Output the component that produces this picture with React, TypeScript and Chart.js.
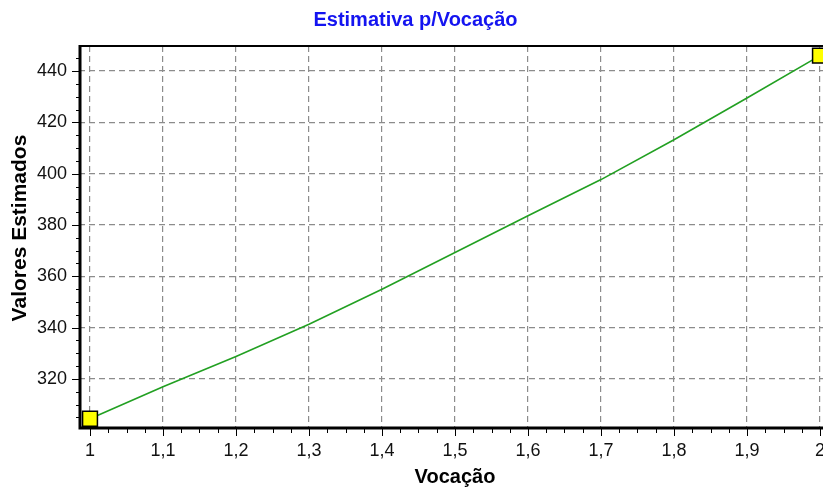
import React, { useEffect, useRef } from "react";
import { Chart, registerables } from "chart.js";

Chart.register(...registerables);

const vocacao = [1, 1.1, 1.2, 1.3, 1.4, 1.5, 1.6, 1.7, 1.8, 1.9, 2];
const valores = [304.5, 317, 328.8, 341.3, 355, 369.3, 383.6, 397.7, 413.2, 429.5, 446];
const xTicks = [1, 1.1, 1.2, 1.3, 1.4, 1.5, 1.6, 1.7, 1.8, 1.9, 2];
const yTicks = [320, 340, 360, 380, 400, 420, 440];
const titleText = "Estimativa p/Vocação";
const xTitle = "Vocação";
const yTitle = "Valores Estimados";

const FONT = "'Liberation Sans', Arial, sans-serif";

const framePlugin = {
  id: "frame",
  afterDraw(chart: any) {
    const { ctx, chartArea } = chart;
    const xs = chart.scales.x;
    const ys = chart.scales.y;
    ctx.save();
    ctx.strokeStyle = "#000";
    ctx.lineWidth = 1;
    ctx.beginPath();
    for (let v = 305; v <= 445; v += 5) {
      const y = Math.round(ys.getPixelForValue(v)) + 0.5;
      const major = v % 20 === 0;
      ctx.moveTo(major ? 72 : 76, y);
      ctx.lineTo(80, y);
    }
    for (let i = 0; i <= 50; i++) {
      const v = 1 + i * 0.025;
      const x = Math.round(xs.getPixelForValue(v)) + 0.5;
      const major = i % 4 === 0;
      ctx.moveTo(x, 429);
      ctx.lineTo(x, major ? 436 : 433);
    }
    ctx.stroke();
    ctx.lineWidth = 2;
    ctx.beginPath();
    ctx.moveTo(79, chartArea.top);
    ctx.lineTo(chart.width, chartArea.top);
    ctx.stroke();
    ctx.lineWidth = 3;
    ctx.beginPath();
    ctx.moveTo(80, chartArea.top - 1);
    ctx.lineTo(80, chartArea.bottom + 1.5);
    ctx.moveTo(78.5, chartArea.bottom);
    ctx.lineTo(chart.width, chartArea.bottom);
    ctx.stroke();
    // y axis title
    ctx.translate(20, 228);
    ctx.rotate(-Math.PI / 2);
    ctx.fillStyle = "#000";
    ctx.font = `bold 21px ${FONT}`;
    ctx.textAlign = "center";
    ctx.textBaseline = "middle";
    ctx.fillText(yTitle, 0, 0);
    ctx.restore();
  },
};

export default function App() {
  const ref = useRef<HTMLCanvasElement>(null);
  useEffect(() => {
    if (!ref.current) return;
    const chart = new Chart(ref.current, {
      type: "line",
      data: {
        datasets: [
          {
            data: vocacao.map((x, i) => ({ x, y: valores[i] })),
            borderColor: "#22a022",
            borderWidth: 1.6,
            tension: 0,
            pointStyle: "rect",
            pointRadius: (c: any) =>
              c.dataIndex === 0 || c.dataIndex === vocacao.length - 1 ? 10.5 : 0,
            pointHoverRadius: 0,
            pointBackgroundColor: "#ffff00",
            pointBorderColor: "#000",
            pointBorderWidth: 1.5,
          },
        ],
      },
      options: {
        animation: false,
        responsive: false,
        devicePixelRatio: 1,
        layout: { padding: { left: 0, right: 14, top: 0, bottom: 0 } },
        plugins: {
          legend: { display: false },
          tooltip: { enabled: false },
          title: {
            display: true,
            text: titleText,
            color: "#1414f0",
            font: { family: FONT, size: 20, weight: "bold" },
            padding: { top: 8, bottom: 14 },
          },
        },
        scales: {
          x: {
            type: "linear",
            min: 1 - 11 / 730,
            max: 2 + 11 / 730,
            afterBuildTicks: (s: any) => {
              s.ticks = xTicks.map((v) => ({ value: v }));
            },
            afterFit: (s: any) => {
              s.height = 66;
            },
            ticks: {
              color: "#111",
              font: { family: FONT, size: 18 },
              padding: 12,
              maxRotation: 0,
              autoSkip: false,
              callback: (v: any) => String(v).replace(".", ","),
            },
            grid: { color: "#8c8c8c", lineWidth: 1.2, drawTicks: false },
            border: { display: false, dash: [6, 4] },
            title: {
              display: true,
              text: xTitle,
              color: "#000",
              font: { family: FONT, size: 20, weight: "bold" },
              padding: { top: 0, bottom: 5 },
            },
          },
          y: {
            type: "linear",
            min: 300.9,
            max: 449.75,
            afterBuildTicks: (s: any) => {
              s.ticks = yTicks.map((v) => ({ value: v }));
            },
            afterFit: (s: any) => {
              s.width = 79;
            },
            ticks: {
              color: "#111",
              font: { family: FONT, size: 18 },
              padding: 12,
              autoSkip: false,
            },
            grid: { color: "#8c8c8c", lineWidth: 1.2, drawTicks: false },
            border: { display: false, dash: [6, 4] },
            title: { display: false },
          },
        },
      },
      plugins: [framePlugin],
    } as any);
    return () => chart.destroy();
  }, []);

  return (
    <div
      style={{
        position: "absolute",
        left: 0,
        top: 0,
        width: 823,
        height: 494,
        overflow: "hidden",
        background: "#fff",
      }}
    >
      <canvas ref={ref} width={845} height={494} style={{ display: "block" }} />
    </div>
  );
}
